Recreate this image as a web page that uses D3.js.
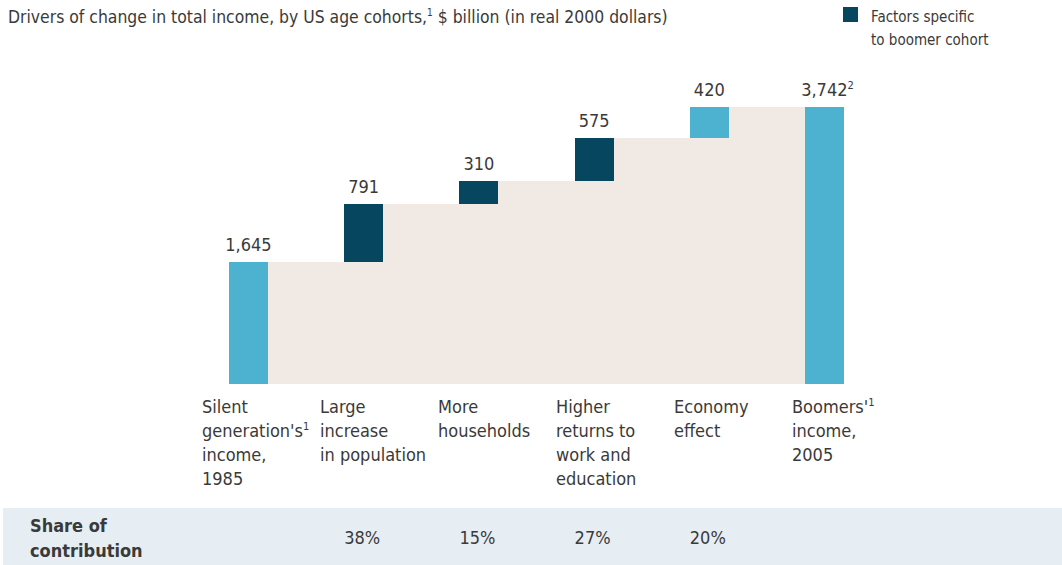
<!DOCTYPE html>
<html>
<head>
<meta charset="utf-8">
<script src="https://cdn.jsdelivr.net/npm/d3@7"></script>
<style>
  html, body { margin: 0; padding: 0; background: #fff; }
  svg { display: block; }
  text { font-family: "Liberation Sans Narrow", "DejaVu Sans Condensed", "Arial Narrow", sans-serif; fill: #3a3a3a; }
</style>
</head>
<body>
<svg id="chart" width="1062" height="565"></svg>
<script>
// Waterfall: drivers of change in total income between cohorts
const categories = ["silent", "population", "households", "returns", "economy", "boomers"];
const categoryLabels = [
  ["Silent", "generation's|1", "income,", "1985"],
  ["Large", "increase", "in population"],
  ["More", "households"],
  ["Higher", "returns to", "work and", "education"],
  ["Economy", "effect"],
  ["Boomers'|1", "income,", "2005"]
];
const values = [1645, 791, 310, 575, 420, 3742];
const kinds = ["total", "boomer", "boomer", "boomer", "other", "total"];
const valueLabels = ["1,645", "791", "310", "575", "420", "3,742|2"];
const shares = ["", "38%", "15%", "27%", "20%", ""];

const colors = { total: "#4db2d0", other: "#4db2d0", boomer: "#06475f", step: "#f1eae4", band: "#e6edf3" };

const svg = d3.select("#chart");

const x = d3.scaleBand().domain(categories).range([229, 844]).paddingInner(0.6615).paddingOuter(0);
// category captions sit on their own, slightly wider grid
const xLabel = d3.scalePoint().domain(categories).range([202, 792]);
const y = d3.scaleLinear().domain([0, 3742]).range([384, 107]);

// running start/end of each bar
let running = 0;
const bars = categories.map((c, i) => {
  let start, end;
  if (kinds[i] === "total") { start = 0; end = values[i]; running = values[i]; }
  else { start = running; end = running + values[i]; running = end; }
  return { c, i, start, end, kind: kinds[i] };
});

// Shaded step area behind the bars
const steps = bars.slice(0, bars.length - 1).map((b, i) => ({
  x0: i === 0 ? x(b.c) + x.bandwidth() : x(b.c),
  x1: x(categories[i + 1]),
  top: b.end
}));
svg.append("g").selectAll("rect").data(steps).join("rect")
  .attr("x", d => d.x0)
  .attr("width", d => d.x1 - d.x0)
  .attr("y", d => y(d.top))
  .attr("height", d => y(0) - y(d.top))
  .attr("fill", colors.step)
  .attr("shape-rendering", "crispEdges");

// Bars
svg.append("g").selectAll("rect").data(bars).join("rect")
  .attr("x", d => x(d.c))
  .attr("width", x.bandwidth())
  .attr("y", d => y(d.end))
  .attr("height", d => y(d.start) - y(d.end))
  .attr("fill", d => colors[d.kind])
  .attr("shape-rendering", "crispEdges");

// helper: write "text|sup" with a superscript part
function writeSup(sel, str, supSize) {
  const [main, sup] = str.split("|");
  sel.append("tspan").text(main);
  if (sup) sel.append("tspan").attr("dy", -7).attr("font-size", supSize).text(sup);
}

// Value labels
svg.append("g").selectAll("text").data(bars).join("text")
  .attr("x", d => x(d.c) + x.bandwidth() / 2)
  .attr("y", d => y(d.end) - 11)
  .attr("text-anchor", "middle")
  .attr("font-size", 18)
  .each(function(d) { writeSup(d3.select(this), valueLabels[d.i], 11); })
  .attr("dx", d => valueLabels[d.i].includes("|") ? 3 : 0);

// Category labels
const labelG = svg.append("g");
categories.forEach((c, i) => {
  categoryLabels[i].forEach((line, j) => {
    const t = labelG.append("text")
      .attr("x", xLabel(c))
      .attr("y", 413 + j * 24)
      .attr("font-size", 18);
    writeSup(t, line, 11);
  });
});

// Share of contribution band
svg.append("rect").attr("x", 3).attr("y", 508).attr("width", 1059).attr("height", 57).attr("fill", colors.band);
svg.append("text").attr("x", 30).attr("y", 532).attr("font-size", 18).attr("font-weight", "bold").attr("fill", "#1a1a1a").text("Share of");
svg.append("text").attr("x", 30).attr("y", 557).attr("font-size", 18).attr("font-weight", "bold").attr("fill", "#1a1a1a").text("contribution");
svg.append("g").selectAll("text").data(categories.filter((c, i) => shares[i])).join("text")
  .attr("x", c => x(c))
  .attr("y", 544)
  .attr("font-size", 18)
  .text(c => shares[categories.indexOf(c)]);

// Title
const title = svg.append("text").attr("x", 8).attr("y", 23).attr("font-size", 17.4);
title.append("tspan").text("Drivers of change in total income, by US age cohorts,");
title.append("tspan").attr("dy", -7).attr("font-size", 10).text("1");
title.append("tspan").attr("dy", 7).text(" $ billion (in real 2000 dollars)");

// Legend
svg.append("rect").attr("x", 843).attr("y", 7).attr("width", 15).attr("height", 15).attr("fill", colors.boomer);
svg.append("text").attr("x", 871).attr("y", 22).attr("font-size", 15).attr("fill", "#555").text("Factors specific");
svg.append("text").attr("x", 871).attr("y", 45).attr("font-size", 15).attr("fill", "#555").text("to boomer cohort");
</script>
</body>
</html>
